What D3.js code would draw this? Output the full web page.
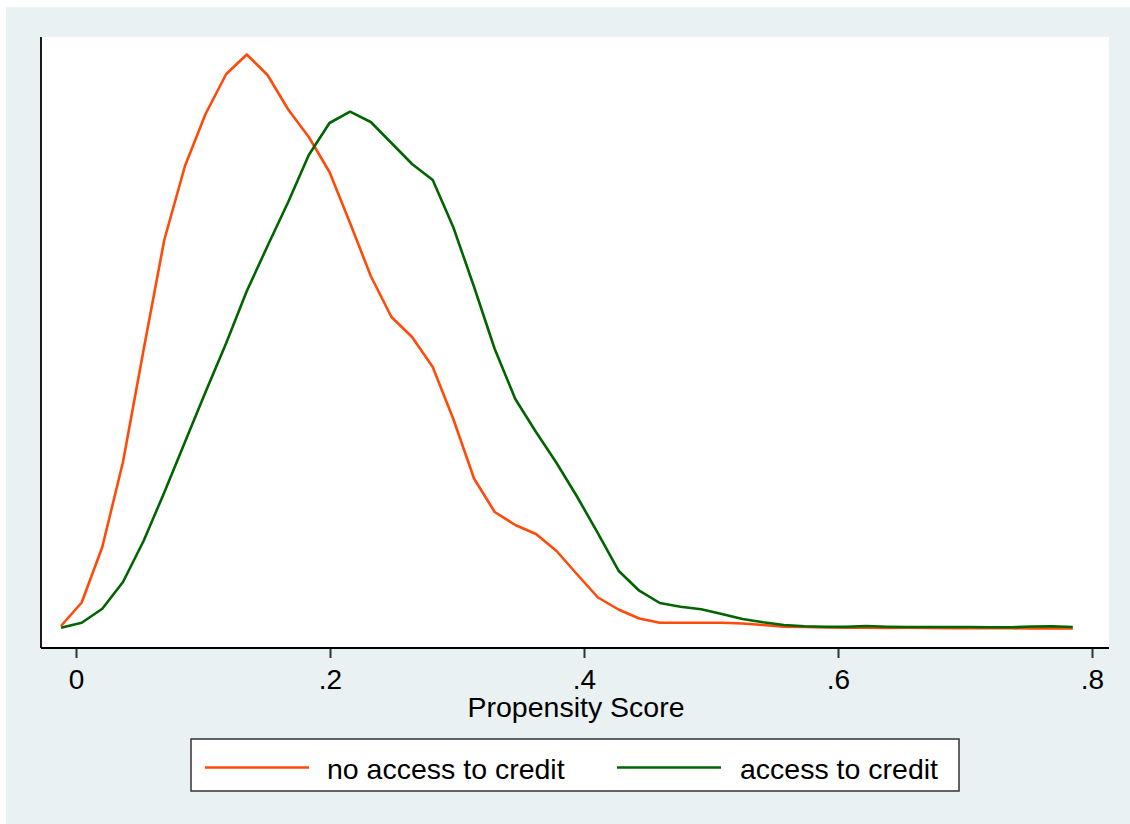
<!DOCTYPE html>
<html>
<head>
<meta charset="utf-8">
<script src="https://cdn.jsdelivr.net/npm/d3@7"></script>
<style>
  html, body { margin: 0; padding: 0; background: #ffffff; }
  svg { display: block; }
  text { font-family: "Liberation Sans", Arial, sans-serif; fill: #000; }
</style>
</head>
<body>
<svg id="chart" width="1130" height="824"></svg>
<script>
// Evaluation grid (propensity score)
const scoreGrid = [-0.0118, 0.0045, 0.0207, 0.0370, 0.0532, 0.0695, 0.0858, 0.1020, 0.1183, 0.1345,
  0.1508, 0.1671, 0.1833, 0.1996, 0.2158, 0.2321, 0.2484, 0.2646, 0.2809, 0.2971,
  0.3134, 0.3297, 0.3459, 0.3622, 0.3784, 0.3947, 0.4110, 0.4272, 0.4435, 0.4597,
  0.4760, 0.4923, 0.5085, 0.5248, 0.5410, 0.5573, 0.5736, 0.5898, 0.6061, 0.6223,
  0.6386, 0.6549, 0.6711, 0.6874, 0.7036, 0.7199, 0.7362, 0.7524, 0.7687, 0.7849];

// Kernel density: no access to credit
const noAccessDensity = [0.03, 0.265, 0.82, 1.67, 2.79, 3.89, 4.63, 5.15, 5.55, 5.745,
  5.54, 5.195, 4.92, 4.57, 4.06, 3.53, 3.12, 2.92, 2.62, 2.10,
  1.505, 1.17, 1.04, 0.95, 0.78, 0.545, 0.315, 0.195, 0.105, 0.063,
  0.063, 0.063, 0.063, 0.055, 0.04, 0.023, 0.02, 0.015, 0.013, 0.013,
  0.01, 0.012, 0.01, 0.009, 0.008, 0.008, 0.007, 0.006, 0.006, 0.005];

// Kernel density: access to credit
const accessDensity = [0.013, 0.063, 0.203, 0.47, 0.88, 1.365, 1.87, 2.37, 2.86, 3.38,
  3.83, 4.27, 4.74, 5.06, 5.173, 5.07, 4.86, 4.65, 4.49, 4.017,
  3.423, 2.80, 2.30, 1.97, 1.66, 1.32, 0.957, 0.583, 0.383, 0.26,
  0.223, 0.197, 0.15, 0.10, 0.067, 0.04, 0.028, 0.023, 0.023, 0.03,
  0.023, 0.02, 0.02, 0.02, 0.02, 0.018, 0.017, 0.025, 0.027, 0.02];

const xTicks = [0, 0.2, 0.4, 0.6, 0.8];
const xTickLabels = ["0", ".2", ".4", ".6", ".8"];
const seriesNames = ["no access to credit", "access to credit"];
const seriesColors = ["#ff4a0a", "#006400"];
const xTitle = "Propensity Score";

const svg = d3.select("#chart");

// outer graph region
svg.append("rect").attr("x", 6).attr("y", 7).attr("width", 1124).attr("height", 817)
  .attr("fill", "#eaf1f3");

const plot = { left: 41, right: 1109, top: 37, bottom: 648 };

svg.append("rect").attr("x", plot.left).attr("y", plot.top)
  .attr("width", plot.right - plot.left).attr("height", plot.bottom - plot.top)
  .attr("fill", "#ffffff");

const x = d3.scaleLinear().domain([0, 0.8]).range([76, 1092]);
const y = d3.scaleLinear().domain([-0.19, 5.92]).range([plot.bottom, plot.top]);

// x axis
const xAxis = d3.axisBottom(x).tickValues(xTicks)
  .tickFormat((d, i) => xTickLabels[i]).tickSize(10).tickPadding(11).tickSizeOuter(0);
const gx = svg.append("g").attr("transform", `translate(0,${plot.bottom})`).call(xAxis);
gx.select(".domain").remove();
gx.selectAll(".tick line").attr("stroke", "#333").attr("stroke-width", 2);
gx.selectAll(".tick text").attr("font-size", 28).attr("fill", "#000")
  .attr("font-family", "Liberation Sans, Arial, sans-serif");

// axis lines
svg.append("line").attr("x1", plot.left).attr("x2", plot.right)
  .attr("y1", plot.bottom).attr("y2", plot.bottom)
  .attr("stroke", "#000").attr("stroke-width", 1.8);
svg.append("line").attr("x1", plot.left).attr("x2", plot.left)
  .attr("y1", plot.top).attr("y2", plot.bottom)
  .attr("stroke", "#000").attr("stroke-width", 1.8);

// x title
svg.append("text").attr("x", 576).attr("y", 717).attr("text-anchor", "middle")
  .attr("font-size", 28.5).text(xTitle);

// curves
const line = d3.line().x((d, i) => x(scoreGrid[i])).y(d => y(d));
[noAccessDensity, accessDensity].forEach((series, k) => {
  svg.append("path").datum(series).attr("d", line)
    .attr("fill", "none").attr("stroke", seriesColors[k])
    .attr("stroke-width", 2.6).attr("stroke-linejoin", "round");
});

// legend
const leg = svg.append("g");
leg.append("rect").attr("x", 191).attr("y", 739).attr("width", 768).attr("height", 52)
  .attr("fill", "#ffffff").attr("stroke", "#333").attr("stroke-width", 1.5);
const legItems = [{ lx: 205, tx: 327 }, { lx: 617, tx: 740 }];
legItems.forEach((it, k) => {
  leg.append("line").attr("x1", it.lx).attr("x2", it.lx + 104)
    .attr("y1", 767.5).attr("y2", 767.5)
    .attr("stroke", seriesColors[k]).attr("stroke-width", 2.6);
  leg.append("text").attr("x", it.tx).attr("y", 778.5).attr("font-size", 28.5)
    .text(seriesNames[k]);
});
</script>
</body>
</html>
